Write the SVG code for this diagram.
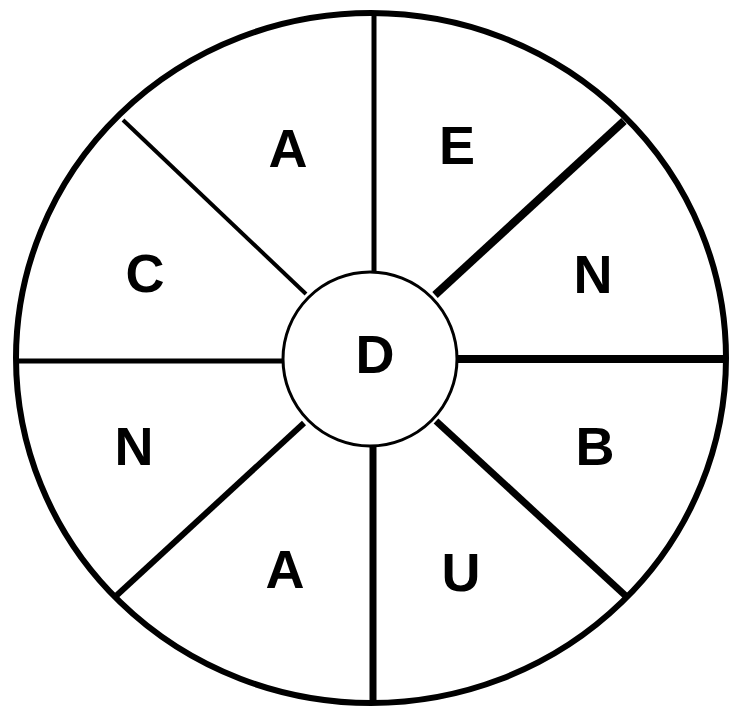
<svg xmlns="http://www.w3.org/2000/svg" width="737" height="708" viewBox="0 0 737 708">
<style>
.lbl{font-family:"Liberation Sans",Arial,sans-serif;font-weight:bold;font-size:54px;fill:#000;text-anchor:middle}
.sp{stroke:#000;stroke-linecap:butt;fill:none}
</style>
<rect width="737" height="708" fill="#fff"/>
<g id="outer"><ellipse cx="371" cy="358" rx="355" ry="345" fill="#fff" stroke="#000" stroke-width="6"/></g>
<g id="connectors">
<line class="sp" x1="374" y1="14" x2="374" y2="274" stroke-width="5"/>
<line class="sp" x1="373" y1="446" x2="373" y2="702" stroke-width="7"/>
<line class="sp" x1="16" y1="361" x2="283" y2="361" stroke-width="5"/>
<line class="sp" x1="457" y1="359" x2="726" y2="359" stroke-width="8"/>
<line class="sp" x1="123" y1="120" x2="306" y2="294" stroke-width="4"/>
<line class="sp" x1="624" y1="121" x2="435" y2="295" stroke-width="8"/>
<line class="sp" x1="116" y1="596" x2="304" y2="423" stroke-width="6"/>
<line class="sp" x1="628" y1="598" x2="436" y2="421" stroke-width="7"/>
</g>
<g id="center"><circle cx="370" cy="359" r="87" fill="#fff" stroke="#000" stroke-width="3"/><text class="lbl" x="375" y="373">D</text></g>
<g id="seg-A-top"><text class="lbl" x="288" y="167">A</text></g>
<g id="seg-E"><text class="lbl" x="457" y="164">E</text></g>
<g id="seg-N-right"><text class="lbl" x="593" y="293">N</text></g>
<g id="seg-B"><text class="lbl" x="595" y="465">B</text></g>
<g id="seg-U"><text class="lbl" x="461" y="591">U</text></g>
<g id="seg-A-bottom"><text class="lbl" x="285" y="588">A</text></g>
<g id="seg-N-left"><text class="lbl" x="134" y="465">N</text></g>
<g id="seg-C"><text class="lbl" x="145" y="292">C</text></g>
</svg>
